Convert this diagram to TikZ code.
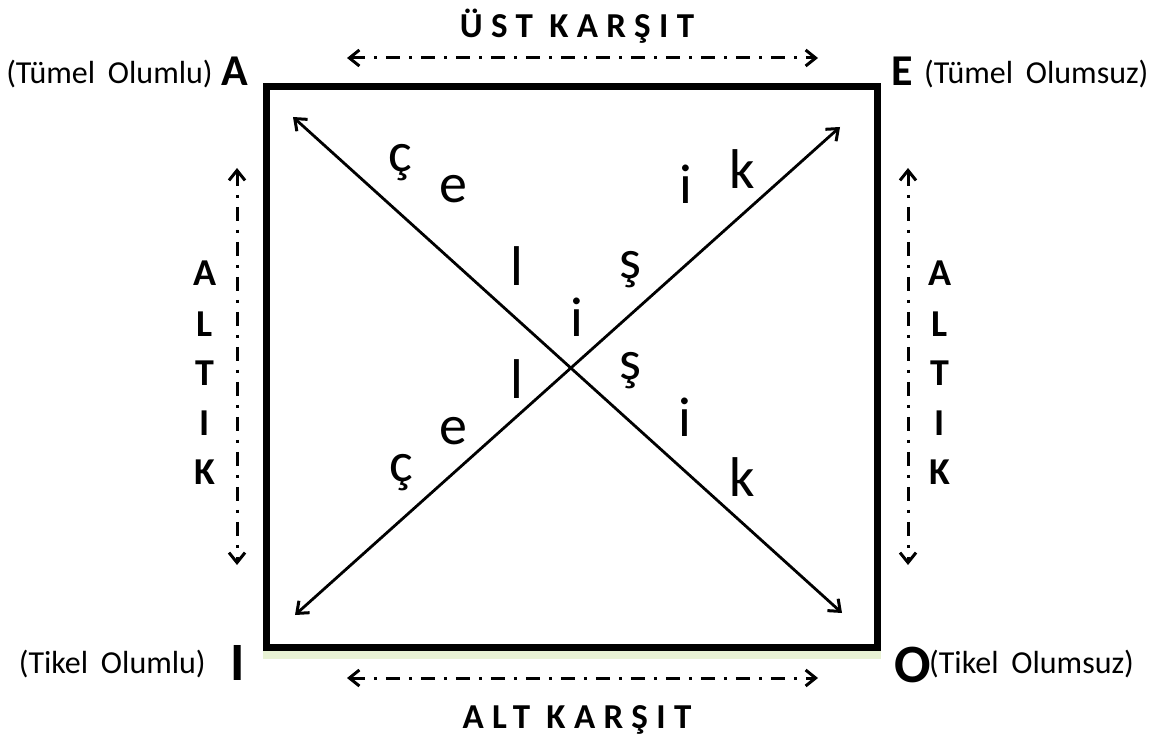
\documentclass[tikz,border=0pt]{standalone}
\usepackage{fontspec}
\setmainfont{Carlito}
\usetikzlibrary{arrows.meta}
\definecolor{glow}{HTML}{E8F2D4}
\begin{document}
\begin{tikzpicture}[x=1pt,y=-1pt,
  frame/.style={line width=7pt, line join=miter},
  barb/.tip={Straight Barb[length=10pt,width=16pt,line width=3pt]},
  diag/.style={line width=2.8pt, barb-barb},
  opp/.style={line width=3pt, dash pattern=on 14pt off 9pt on 3pt off 9pt, barb-barb},
  lbl/.style={inner sep=0pt, font=\fontsize{32}{32}\selectfont},
  corner/.style={inner sep=0pt, font=\fontsize{44}{44}\selectfont\bfseries},
  bigcorner/.style={inner sep=0pt, font=\fontsize{54}{54}\selectfont\bfseries},
  title/.style={inner sep=0pt, font=\fontsize{35}{35}\selectfont\bfseries\addfontfeature{LetterSpace=24}},
  side/.style={inner sep=0pt, anchor=base, font=\fontsize{38}{38}\selectfont\bfseries},
  letter/.style={inner sep=0pt, anchor=base, font=\fontsize{56}{56}\selectfont}
]
\useasboundingbox (0,0) rectangle (1168,738);
% square
\coordinate (tl) at (266.5,86.5);
\coordinate (br) at (877,647);
\fill[glow] (263,651) rectangle (881,659);
\draw[frame] (tl) rectangle (br);
% diagonals
\coordinate (d1s) at (293,117);
\coordinate (d1e) at (842,613);
\coordinate (d2s) at (295,615);
\coordinate (d2e) at (840,127);
\draw[diag] (d1s) -- (d1e);
\draw[diag] (d2s) -- (d2e);
% opposition arrows
\coordinate (ta1) at (347,58);
\coordinate (ta2) at (818,58);
\coordinate (ba1) at (347,678);
\coordinate (ba2) at (818,678);
\coordinate (la1) at (237,168);
\coordinate (la2) at (237,565);
\coordinate (ra1) at (908,168);
\coordinate (ra2) at (908,565);
\draw[opp] (ta1) -- (ta2);
\draw[opp] (ba1) -- (ba2);
\draw[opp] (la1) -- (la2);
\draw[opp] (ra1) -- (ra2);
% titles
\node[title, anchor=base] (ust) at (577,38) {ÜST KARŞIT};
\node[title, anchor=base] (alt) at (577,728) {ALT KARŞIT};
% corner labels
\node[corner, anchor=base west] (A) at (221,86) {A};
\node[lbl, anchor=base east] (Al) at (213,84) {(Tümel\hspace{0.4em}Olumlu)};
\node[corner, anchor=base west] (E) at (891,86) {E};
\node[lbl, anchor=base west] (El) at (924,84) {(Tümel\hspace{0.4em}Olumsuz)};
\node[bigcorner, anchor=base west] (I) at (230,680) {I};
\node[lbl, anchor=base east] (Il) at (206,673) {(Tikel\hspace{0.4em}Olumlu)};
\node[bigcorner, anchor=base west] (O) at (894,682) {O};
\node[lbl, anchor=base west] (Ol) at (929,673) {(Tikel\hspace{0.4em}Olumsuz)};
% side labels
\foreach \t/\y [count=\i] in {A/286,L/336,T/385,I/435,K/484}{
  \node[side] (ls\i) at (205,\y) {\t};
  \node[side] (rs\i) at (940,\y) {\t};
}
% diagonal letters
\node[letter] (c1) at (400,172) {ç};
\node[letter] (e1) at (453,203) {e};
\node[letter] (l1) at (517,286) {l};
\node[letter] (i0) at (577,336) {i};
\node[letter] (s1) at (630,279) {ş};
\node[letter] (i1) at (686,204) {i};
\node[letter] (k1) at (742,189) {k};
\node[letter] (l2) at (517,398) {l};
\node[letter] (e2) at (453,444) {e};
\node[letter] (c2) at (401,481) {ç};
\node[letter] (s2) at (630,379) {ş};
\node[letter] (i2) at (685,436) {i};
\node[letter] (k2) at (742,496) {k};
\end{tikzpicture}
\end{document}
